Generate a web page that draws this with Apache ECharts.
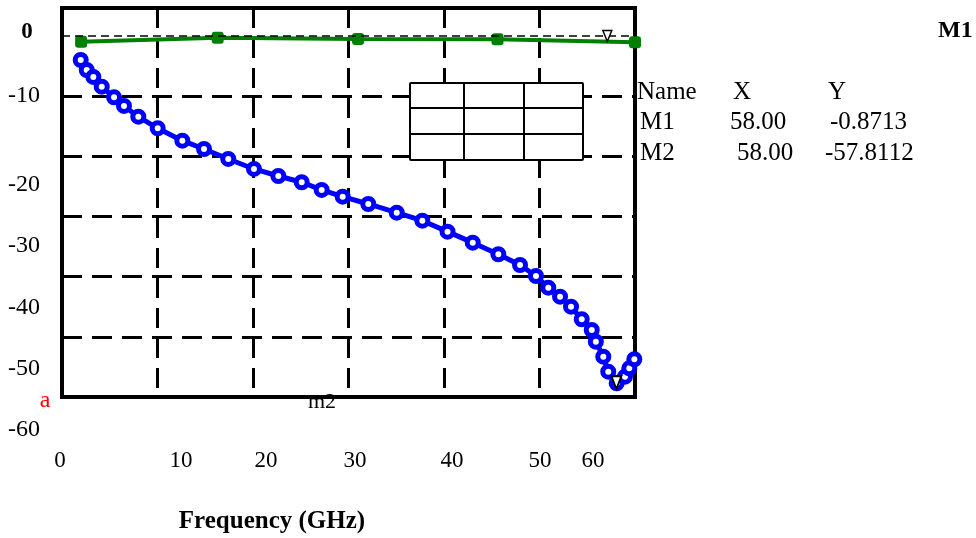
<!DOCTYPE html>
<html>
<head>
<meta charset="utf-8">
<title>Frequency response</title>
<script src="https://cdn.jsdelivr.net/npm/echarts@6/dist/echarts.min.js"></script>
<style>
  html, body { margin: 0; padding: 0; background: #fff; }
  #main { width: 976px; height: 538px; }
</style>
</head>
<body>
<div id="main"></div>
<script>
// blue trace: frequency (GHz) and level (dB)
var blueFreq = [1.96, 2.59, 3.28, 4.16, 5.45, 6.49, 7.99, 10.02, 12.6, 14.87, 17.41, 20.1,
    22.65, 25.1, 27.19, 29.39, 32.07, 35.05, 37.73, 40.37, 43.01, 45.69, 47.96, 49.63,
    50.92, 52.15, 53.3, 54.42, 55.47, 55.9, 56.68, 57.2, 58.08, 58.95, 59.4, 59.93];
var blueDb = [-3.99, -5.65, -6.81, -8.43, -10.19, -11.63, -13.41, -15.34, -17.4, -18.78, -20.44, -22.1,
    -23.27, -24.31, -25.59, -26.71, -27.92, -29.37, -30.7, -32.52, -34.35, -36.28, -38.06, -39.89,
    -41.83, -43.33, -44.99, -47.08, -48.86, -50.81, -53.3, -55.79, -57.72, -56.62, -55.23, -53.73];

// green trace
var greenFreq = [2.0, 16.3, 31.0, 45.6, 60.0];
var greenDb = [-0.95, -0.3, -0.5, -0.55, -1.05];

// marker triangles
var markerNames = ['M1', 'M2'];
var markerFreq = [57.1, 58.05];
var markerDb = [0.0, -57.6];

var yTickLabels = ['0', '-10', '-20', '-30', '-40', '-50', '-60'];
var xTickLabels = ['0', '10', '20', '30', '40', '50', '60'];

var tableHead = ['Name', 'X', 'Y'];
var tableRows = [
    ['M1', '58.00', '-0.8713'],
    ['M2', '58.00', '-57.8112']
];

// where the loose labels sit on the page
var yLabelPos = [[27, 32], [24, 96], [24, 185], [24, 246], [24, 308], [24, 369], [24, 430]];
var xLabelPos = [[60, 461], [181, 461], [266, 461], [355, 461], [452, 461], [540, 461], [593, 461]];
var headX = [637, 733, 828];
var rowX = [[640, 730, 830], [640, 737, 825]];
var rowY = [122, 153];

var serif = '"Liberation Serif", "DejaVu Serif", serif';

function toPairs(xs, ys) {
    var out = [];
    for (var i = 0; i < xs.length; i++) out.push([xs[i], ys[i]]);
    return out;
}

function boxLine(x1, y1, x2, y2) {
    return { type: 'line', z: 100, shape: { x1: x1, y1: y1, x2: x2, y2: y2 },
             style: { stroke: '#000', lineWidth: 2 } };
}

var graphics = [];

yTickLabels.forEach(function (t, i) {
    graphics.push({
        type: 'text', x: yLabelPos[i][0], y: yLabelPos[i][1],
        style: {
            text: t, fill: '#000', align: 'center', verticalAlign: 'middle',
            font: (i === 0 ? 'bold 23px ' : '24px ') + serif
        }
    });
});

xTickLabels.forEach(function (t, i) {
    graphics.push({
        type: 'text', x: xLabelPos[i][0], y: xLabelPos[i][1],
        style: { text: t, fill: '#000', align: 'center', verticalAlign: 'middle', font: '23px ' + serif }
    });
});

tableHead.forEach(function (t, i) {
    graphics.push({
        type: 'text', x: headX[i], y: 92,
        style: { text: t, fill: '#000', align: 'left', verticalAlign: 'middle', font: '25px ' + serif }
    });
});

tableRows.forEach(function (row, r) {
    row.forEach(function (t, c) {
        graphics.push({
            type: 'text', x: rowX[r][c], y: rowY[r],
            style: { text: t, fill: '#000', align: 'left', verticalAlign: 'middle', font: '25px ' + serif }
        });
    });
});

// empty 3x3 box inside the plot, on top of the grid lines
graphics.push(
    { type: 'rect', z: 99, shape: { x: 410, y: 83, width: 173, height: 77, r: 1 },
      style: { fill: '#fff', stroke: '#000', lineWidth: 2 } },
    boxLine(464, 83, 464, 160),
    boxLine(524, 83, 524, 160),
    boxLine(410, 108, 583, 108),
    boxLine(410, 134, 583, 134)
);

graphics.push(
    { type: 'text', x: 938, y: 31,
      style: { text: 'M1', fill: '#000', align: 'left', verticalAlign: 'middle', font: 'bold 24px ' + serif } },
    { type: 'text', x: 45, y: 401,
      style: { text: 'a', fill: '#ff0000', align: 'center', verticalAlign: 'middle', font: '24px ' + serif } },
    { type: 'text', x: 322, y: 402, z: -1,
      style: { text: 'm2', fill: '#000', align: 'center', verticalAlign: 'middle', font: '22px ' + serif } },
    { type: 'text', x: 272, y: 522,
      style: { text: 'Frequency (GHz)', fill: '#000', align: 'center', verticalAlign: 'middle', font: 'bold 25px ' + serif } }
);

var chart = echarts.init(document.getElementById('main'));

chart.setOption({
    animation: false,
    backgroundColor: '#fff',
    grid: {
        left: 62, top: 8, right: 341, bottom: 141,
        show: true, borderColor: '#000', borderWidth: 4, containLabel: false
    },
    xAxis: {
        type: 'value', min: 0, max: 60, interval: 10,
        axisLine: { show: false }, axisTick: { show: false }, axisLabel: { show: false },
        splitLine: { show: true, lineStyle: { color: '#000', width: 3, type: [20, 10] } }
    },
    yAxis: {
        type: 'value', min: -60, max: 4.65, interval: 10,
        axisLine: { show: false }, axisTick: { show: false }, axisLabel: { show: false },
        splitLine: {
            show: true,
            // 0 dB is covered by the marker line instead
            lineStyle: {
                color: ['#000', '#000', '#000', '#000', '#000', '#000', 'rgba(0,0,0,0)', '#000'],
                width: 3, type: [20, 10]
            }
        }
    },
    graphic: graphics,
    series: [
        {
            name: 'S1',
            type: 'line',
            data: toPairs(greenFreq, greenDb),
            symbol: 'roundRect',
            symbolSize: 12,
            lineStyle: { color: '#008000', width: 4 },
            itemStyle: { color: '#008000' },
            z: 3,
            markLine: {
                silent: true, symbol: 'none',
                label: { show: false },
                lineStyle: { color: '#000', width: 1.5, type: [8, 5] },
                data: [{ yAxis: 0 }]
            },
            markPoint: {
                symbol: 'triangle', symbolRotate: 180, symbolSize: [9, 11],
                itemStyle: { color: '#fff', borderColor: '#000', borderWidth: 1.5 },
                label: { show: false },
                data: [{ name: markerNames[0], coord: [markerFreq[0], markerDb[0]] }]
            }
        },
        {
            name: 'S2',
            type: 'line',
            data: toPairs(blueFreq, blueDb),
            symbol: 'circle',
            symbolSize: 11,
            lineStyle: { color: '#0000ff', width: 5 },
            itemStyle: { color: '#fff', borderColor: '#0000ff', borderWidth: 5 },
            z: 4,
            markPoint: {
                symbol: 'triangle', symbolRotate: 180, symbolSize: [10, 13],
                itemStyle: { color: '#fff', borderColor: '#000', borderWidth: 2 },
                label: { show: false },
                z: 10,
                data: [{ name: markerNames[1], coord: [markerFreq[1], markerDb[1]] }]
            }
        }
    ]
});
</script>
</body>
</html>
